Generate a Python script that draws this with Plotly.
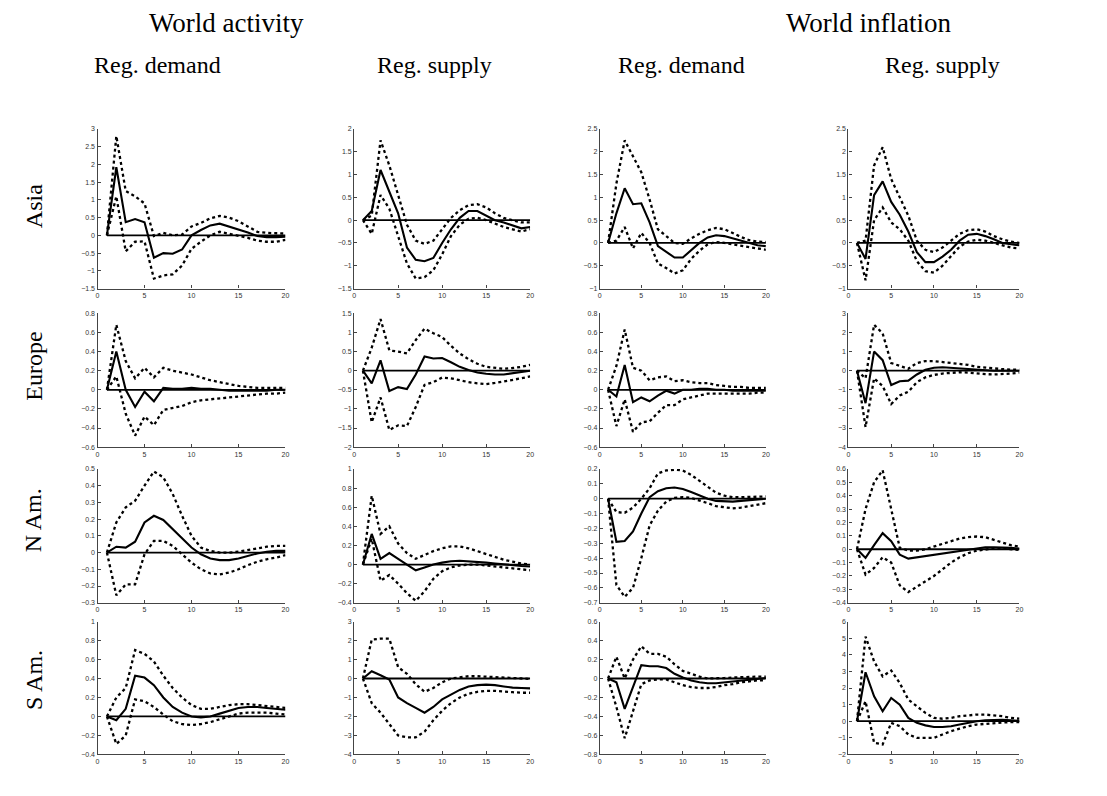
import plotly.graph_objects as go

# ---------------- data ----------------
horizon = list(range(1, 21))

row_labels = ["Asia", "Europe", "N Am.", "S Am."]
col_labels = ["Reg. demand", "Reg. supply", "Reg. demand", "Reg. supply"]
group_labels = ["World activity", "World inflation"]

# Asia - world activity - regional demand
asia_act_dem_med = [0, 1.92, 0.37, 0.46, 0.37, -0.63, -0.5, -0.52, -0.4, 0.0, 0.15, 0.28, 0.33, 0.25, 0.17, 0.08, -0.02, -0.05, -0.05, -0.04]
asia_act_dem_hi = [0, 2.8, 1.25, 1.1, 0.9, -0.02, 0.07, 0.0, 0.02, 0.25, 0.35, 0.48, 0.55, 0.5, 0.4, 0.25, 0.1, 0.07, 0.05, 0.05]
asia_act_dem_lo = [0, 1.1, -0.45, -0.18, -0.17, -1.22, -1.13, -1.1, -0.85, -0.38, -0.18, 0.0, 0.1, 0.05, 0.0, -0.07, -0.15, -0.18, -0.18, -0.13]
# Asia - world activity - regional supply
asia_act_sup_med = [0, 0.2, 1.1, 0.62, 0.15, -0.6, -0.87, -0.9, -0.83, -0.5, -0.2, 0.05, 0.2, 0.2, 0.1, 0.0, -0.05, -0.12, -0.18, -0.15]
asia_act_sup_hi = [0, 0.1, 1.75, 1.2, 0.55, -0.1, -0.45, -0.52, -0.45, -0.2, 0.05, 0.22, 0.33, 0.35, 0.28, 0.15, 0.05, 0.0, -0.05, -0.05]
asia_act_sup_lo = [0, -0.3, 0.55, 0.25, -0.35, -0.95, -1.28, -1.25, -1.1, -0.75, -0.35, -0.1, 0.03, 0.05, 0.0, -0.07, -0.15, -0.2, -0.25, -0.2]
# Asia - world inflation - regional demand
asia_inf_dem_med = [0, 0.65, 1.2, 0.85, 0.87, 0.45, -0.07, -0.2, -0.32, -0.32, -0.15, 0.0, 0.12, 0.17, 0.15, 0.1, 0.05, 0.0, -0.05, -0.07]
asia_inf_dem_hi = [0, 1.3, 2.25, 1.9, 1.55, 0.95, 0.3, 0.15, 0.0, -0.02, 0.1, 0.2, 0.28, 0.33, 0.3, 0.22, 0.13, 0.06, 0.03, 0.02]
asia_inf_dem_lo = [0, 0.05, 0.35, -0.12, 0.22, 0.0, -0.45, -0.55, -0.67, -0.6, -0.35, -0.17, -0.03, 0.02, 0.0, -0.03, -0.07, -0.1, -0.12, -0.15]
# Asia - world inflation - regional supply
asia_inf_sup_med = [0, -0.35, 1.05, 1.35, 0.9, 0.62, 0.25, -0.2, -0.42, -0.42, -0.3, -0.15, 0.05, 0.18, 0.2, 0.15, 0.08, 0.0, -0.03, -0.05]
asia_inf_sup_hi = [0, 0.05, 1.7, 2.1, 1.4, 1.0, 0.6, 0.05, -0.15, -0.2, -0.1, 0.05, 0.2, 0.28, 0.3, 0.25, 0.15, 0.08, 0.03, 0.0]
asia_inf_sup_lo = [0, -0.82, 0.5, 0.78, 0.45, 0.3, 0.05, -0.4, -0.62, -0.65, -0.5, -0.3, -0.08, 0.03, 0.07, 0.05, 0.0, -0.05, -0.1, -0.12]

# Europe
eur_act_dem_med = [0, 0.4, 0.0, -0.18, -0.02, -0.12, 0.02, 0.01, 0.01, 0.02, 0.01, 0.01, 0.0, -0.01, -0.01, -0.01, -0.01, -0.01, 0.0, 0.0]
eur_act_dem_hi = [0, 0.68, 0.3, 0.12, 0.23, 0.13, 0.23, 0.2, 0.18, 0.16, 0.13, 0.1, 0.08, 0.06, 0.04, 0.03, 0.02, 0.02, 0.02, 0.02]
eur_act_dem_lo = [0, 0.14, -0.25, -0.48, -0.28, -0.37, -0.21, -0.19, -0.17, -0.13, -0.11, -0.1, -0.09, -0.08, -0.07, -0.06, -0.05, -0.04, -0.04, -0.03]
eur_act_sup_med = [0, -0.33, 0.27, -0.53, -0.43, -0.48, -0.1, 0.37, 0.32, 0.33, 0.22, 0.1, 0.02, -0.05, -0.08, -0.1, -0.1, -0.07, -0.03, 0.0]
eur_act_sup_hi = [0, 0.6, 1.35, 0.53, 0.5, 0.45, 0.8, 1.1, 0.98, 0.88, 0.65, 0.45, 0.3, 0.18, 0.1, 0.07, 0.05, 0.07, 0.1, 0.15]
eur_act_sup_lo = [0, -1.35, -0.7, -1.55, -1.43, -1.45, -0.95, -0.37, -0.3, -0.18, -0.2, -0.26, -0.3, -0.33, -0.35, -0.32, -0.28, -0.25, -0.2, -0.15]
eur_inf_dem_med = [0, -0.07, 0.26, -0.13, -0.08, -0.12, -0.06, -0.01, -0.04, 0.0, 0.0, 0.01, 0.01, 0.0, 0.0, -0.01, -0.01, -0.01, -0.01, -0.01]
eur_inf_dem_hi = [0, 0.25, 0.63, 0.23, 0.2, 0.1, 0.13, 0.14, 0.09, 0.1, 0.08, 0.07, 0.07, 0.05, 0.04, 0.03, 0.03, 0.02, 0.02, 0.02]
eur_inf_dem_lo = [0, -0.38, -0.1, -0.44, -0.34, -0.33, -0.24, -0.16, -0.16, -0.1, -0.08, -0.06, -0.04, -0.04, -0.04, -0.04, -0.04, -0.04, -0.03, -0.03]
eur_inf_sup_med = [0, -1.7, 1.0, 0.55, -0.75, -0.55, -0.52, -0.2, 0.05, 0.15, 0.18, 0.15, 0.12, 0.1, 0.05, 0.02, 0.0, 0.0, 0.0, 0.0]
eur_inf_sup_hi = [0, -0.4, 2.4, 1.95, 0.4, 0.25, 0.1, 0.4, 0.5, 0.5, 0.45, 0.4, 0.35, 0.3, 0.2, 0.15, 0.1, 0.08, 0.05, 0.05]
eur_inf_sup_lo = [0, -2.95, -0.4, -0.8, -1.75, -1.3, -1.1, -0.6, -0.35, -0.22, -0.15, -0.1, -0.08, -0.1, -0.15, -0.18, -0.2, -0.18, -0.15, -0.1]

# North America
nam_act_dem_med = [0, 0.035, 0.03, 0.065, 0.18, 0.22, 0.195, 0.14, 0.08, 0.03, -0.01, -0.035, -0.045, -0.045, -0.035, -0.02, -0.005, 0.005, 0.01, 0.01]
nam_act_dem_hi = [0, 0.18, 0.27, 0.31, 0.4, 0.485, 0.45, 0.35, 0.22, 0.1, 0.03, 0.01, 0.0, 0.0, 0.005, 0.015, 0.025, 0.035, 0.04, 0.04]
nam_act_dem_lo = [0, -0.255, -0.19, -0.19, -0.01, 0.07, 0.07, 0.04, -0.01, -0.06, -0.1, -0.125, -0.13, -0.12, -0.1, -0.075, -0.055, -0.04, -0.03, -0.015]
nam_act_sup_med = [0, 0.32, 0.06, 0.12, 0.06, 0.0, -0.06, -0.03, 0.0, 0.02, 0.035, 0.04, 0.035, 0.03, 0.02, 0.01, 0.0, -0.01, -0.015, -0.02]
nam_act_sup_hi = [0, 0.72, 0.32, 0.4, 0.22, 0.12, 0.06, 0.1, 0.14, 0.17, 0.19, 0.19, 0.17, 0.14, 0.11, 0.08, 0.05, 0.03, 0.01, 0.0]
nam_act_sup_lo = [0, 0.27, -0.17, -0.11, -0.2, -0.3, -0.38, -0.28, -0.15, -0.07, -0.03, -0.01, 0.0, 0.0, -0.01, -0.02, -0.03, -0.04, -0.05, -0.06]
nam_inf_dem_med = [0, -0.29, -0.285, -0.22, -0.1, 0.01, 0.05, 0.07, 0.075, 0.065, 0.045, 0.02, 0.0, -0.015, -0.02, -0.02, -0.015, -0.01, -0.005, 0.0]
nam_inf_dem_hi = [0, -0.09, -0.095, -0.06, 0.0, 0.07, 0.17, 0.19, 0.195, 0.19, 0.16, 0.12, 0.08, 0.04, 0.02, 0.01, 0.01, 0.01, 0.015, 0.015]
nam_inf_dem_lo = [0, -0.58, -0.66, -0.6, -0.4, -0.18, -0.08, -0.02, 0.005, 0.01, 0.005, -0.01, -0.03, -0.05, -0.06, -0.065, -0.06, -0.05, -0.04, -0.03]
nam_inf_sup_med = [0, -0.065, 0.03, 0.12, 0.06, -0.04, -0.07, -0.06, -0.05, -0.04, -0.03, -0.02, -0.01, 0.0, 0.01, 0.015, 0.015, 0.015, 0.01, 0.005]
nam_inf_sup_hi = [0, 0.3, 0.5, 0.59, 0.3, 0.01, -0.01, -0.01, 0.0, 0.02, 0.04, 0.06, 0.08, 0.09, 0.095, 0.09, 0.07, 0.05, 0.03, 0.02]
nam_inf_sup_lo = [0, -0.19, -0.14, -0.06, -0.1, -0.27, -0.32, -0.28, -0.24, -0.2, -0.15, -0.1, -0.06, -0.03, -0.01, 0.0, 0.005, 0.005, 0.0, -0.005]

# South America
sam_act_dem_med = [0, -0.04, 0.08, 0.43, 0.41, 0.33, 0.2, 0.1, 0.04, 0.0, -0.01, 0.0, 0.03, 0.06, 0.09, 0.1, 0.1, 0.09, 0.08, 0.07]
sam_act_dem_hi = [0, 0.2, 0.3, 0.7, 0.66, 0.58, 0.43, 0.3, 0.2, 0.12, 0.08, 0.08, 0.1, 0.12, 0.13, 0.13, 0.12, 0.11, 0.1, 0.09]
sam_act_dem_lo = [0, -0.29, -0.2, 0.18, 0.16, 0.1, 0.02, -0.05, -0.08, -0.09, -0.08, -0.06, -0.03, 0.0, 0.03, 0.04, 0.04, 0.04, 0.03, 0.02]
sam_act_sup_med = [0, 0.38, 0.17, -0.05, -1.0, -1.3, -1.55, -1.8, -1.5, -1.1, -0.85, -0.6, -0.42, -0.35, -0.32, -0.35, -0.42, -0.48, -0.5, -0.52]
sam_act_sup_hi = [0, 2.05, 2.1, 2.1, 0.6, 0.25, -0.3, -0.7, -0.5, -0.2, 0.0, 0.08, 0.12, 0.12, 0.1, 0.06, 0.02, 0.0, -0.02, -0.02]
sam_act_sup_lo = [0, -1.3, -1.8, -2.4, -3.0, -3.1, -3.1, -2.8, -2.2, -1.7, -1.3, -1.0, -0.8, -0.7, -0.65, -0.65, -0.7, -0.72, -0.75, -0.75]
sam_inf_dem_med = [0, -0.04, -0.32, -0.08, 0.14, 0.13, 0.13, 0.11, 0.05, 0.01, -0.02, -0.04, -0.05, -0.05, -0.04, -0.03, -0.02, -0.01, 0.0, 0.005]
sam_inf_dem_hi = [0, 0.23, 0.0, 0.2, 0.34, 0.26, 0.26, 0.23, 0.15, 0.08, 0.05, 0.02, 0.0, 0.0, 0.005, 0.01, 0.015, 0.02, 0.02, 0.02]
sam_inf_dem_lo = [0, -0.3, -0.63, -0.35, -0.06, -0.02, -0.01, -0.01, -0.04, -0.07, -0.09, -0.1, -0.1, -0.09, -0.07, -0.06, -0.04, -0.03, -0.02, -0.02]
sam_inf_sup_med = [0, 2.95, 1.5, 0.6, 1.4, 1.0, 0.2, -0.1, -0.25, -0.35, -0.35, -0.3, -0.2, -0.1, 0.0, 0.05, 0.08, 0.08, 0.05, 0.02]
sam_inf_sup_hi = [0, 5.1, 3.6, 2.7, 3.05, 2.3, 1.3, 0.9, 0.5, 0.2, 0.15, 0.2, 0.3, 0.35, 0.4, 0.4, 0.35, 0.3, 0.2, 0.15]
sam_inf_sup_lo = [0, 1.2, -1.3, -1.4, -0.1, -0.3, -0.8, -1.0, -1.0, -1.0, -0.8, -0.6, -0.45, -0.3, -0.2, -0.15, -0.1, -0.08, -0.05, -0.05]

panels = [
    [(asia_act_dem_med, asia_act_dem_lo, asia_act_dem_hi), (asia_act_sup_med, asia_act_sup_lo, asia_act_sup_hi),
     (asia_inf_dem_med, asia_inf_dem_lo, asia_inf_dem_hi), (asia_inf_sup_med, asia_inf_sup_lo, asia_inf_sup_hi)],
    [(eur_act_dem_med, eur_act_dem_lo, eur_act_dem_hi), (eur_act_sup_med, eur_act_sup_lo, eur_act_sup_hi),
     (eur_inf_dem_med, eur_inf_dem_lo, eur_inf_dem_hi), (eur_inf_sup_med, eur_inf_sup_lo, eur_inf_sup_hi)],
    [(nam_act_dem_med, nam_act_dem_lo, nam_act_dem_hi), (nam_act_sup_med, nam_act_sup_lo, nam_act_sup_hi),
     (nam_inf_dem_med, nam_inf_dem_lo, nam_inf_dem_hi), (nam_inf_sup_med, nam_inf_sup_lo, nam_inf_sup_hi)],
    [(sam_act_dem_med, sam_act_dem_lo, sam_act_dem_hi), (sam_act_sup_med, sam_act_sup_lo, sam_act_sup_hi),
     (sam_inf_dem_med, sam_inf_dem_lo, sam_inf_dem_hi), (sam_inf_sup_med, sam_inf_sup_lo, sam_inf_sup_hi)],
]

# y-axis ranges (min, max, step) per panel
y_axes = [
    [(-1.5, 3, 0.5), (-1.5, 2, 0.5), (-1, 2.5, 0.5), (-1, 2.5, 0.5)],
    [(-0.6, 0.8, 0.2), (-2, 1.5, 0.5), (-0.6, 0.8, 0.2), (-4, 3, 1)],
    [(-0.3, 0.5, 0.1), (-0.4, 1, 0.2), (-0.7, 0.2, 0.1), (-0.4, 0.6, 0.1)],
    [(-0.4, 1, 0.2), (-4, 3, 1), (-0.8, 0.6, 0.2), (-2, 6, 1)],
]

# ---------------- layout geometry (pixels) ----------------
W, H = 1107, 796
col_x = [(88, 277), (346, 523), (593, 760), (843, 1015)]
row_y = [(118, 279), (304, 439), (461, 596), (615, 749)]

fig = go.Figure()
layout = dict(
    width=W, height=H, margin=dict(l=0, r=0, t=0, b=0),
    paper_bgcolor="white", plot_bgcolor="white", showlegend=False,
)
shapes = []
annotations = []

tick_font = dict(family="Liberation Sans, Arial, sans-serif", size=7, color="#333333")

for r in range(4):
    for c in range(4):
        k = r * 4 + c + 1
        xa = "x" if k == 1 else f"x{k}"
        ya = "y" if k == 1 else f"y{k}"
        med, lo, hi = panels[r][c]
        for series, dash, w in ((hi, "dot", 2.3), (lo, "dot", 2.3), (med, "solid", 2.1)):
            fig.add_trace(go.Scatter(
                x=horizon, y=series, mode="lines", xaxis=xa, yaxis=ya,
                line=dict(color="black", width=w, dash=dash), hoverinfo="skip",
            ))
        shapes.append(dict(type="line", xref=xa, yref=ya, x0=horizon[0], x1=horizon[-1],
                           y0=0, y1=0, line=dict(color="black", width=1.8), layer="above"))
        left, right = col_x[c]
        top, bot = row_y[r]
        ymin, ymax, ystep = y_axes[r][c]
        layout["xaxis" if k == 1 else f"xaxis{k}"] = dict(
            domain=[left / W, right / W], anchor=ya, range=[0, 20],
            tickmode="linear", tick0=0, dtick=5, ticks="inside", ticklen=3,
            tickcolor="#444", showline=True, linecolor="#444", linewidth=1.2,
            showgrid=False, zeroline=False, tickfont=tick_font, fixedrange=True,
        )
        layout["yaxis" if k == 1 else f"yaxis{k}"] = dict(
            domain=[(H - bot) / H, (H - top) / H], anchor=xa, range=[ymin, ymax],
            tickmode="linear", tick0=ymin, dtick=ystep, ticks="inside", ticklen=3,
            tickcolor="#444", showline=True, linecolor="#444", linewidth=1.2,
            showgrid=False, zeroline=False, tickfont=tick_font, fixedrange=True,
        )

serif = "Liberation Serif, DejaVu Serif, serif"
group_x = [218, 864]
for label, gx in zip(group_labels, group_x):
    annotations.append(dict(text=label, x=gx / W, y=1 - 11 / H, xref="paper", yref="paper",
                            showarrow=False, font=dict(family=serif, size=27, color="black"),
                            xanchor="center", yanchor="middle"))
sub_x = [148, 427, 675, 938]
for label, sx in zip(col_labels, sub_x):
    annotations.append(dict(text=label, x=sx / W, y=1 - 53 / H, xref="paper", yref="paper",
                            showarrow=False, font=dict(family=serif, size=24, color="black"),
                            xanchor="center", yanchor="middle"))
row_label_y = [196, 357, 513, 674]
for label, ry in zip(row_labels, row_label_y):
    annotations.append(dict(text=label, x=24 / W, y=1 - ry / H, xref="paper", yref="paper",
                            showarrow=False, textangle=-90,
                            font=dict(family=serif, size=24, color="black"),
                            xanchor="center", yanchor="middle"))

layout["shapes"] = shapes
layout["annotations"] = annotations
fig.update_layout(**layout)
fig.write_html("out.html")
